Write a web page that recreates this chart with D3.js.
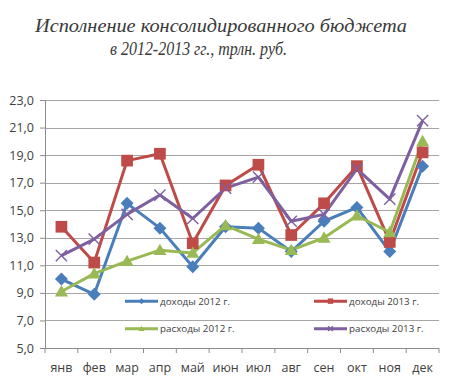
<!DOCTYPE html>
<html>
<head>
<meta charset="utf-8">
<script src="https://cdn.jsdelivr.net/npm/d3@7"></script>
<style>
body { margin: 0; background: #fff; }
svg { display: block; }
</style>
</head>
<body>
<svg id="chart" width="453" height="387"></svg>
<script>
// months
var months = ["янв", "фев", "мар", "апр", "май", "июн", "июл", "авг", "сен", "окт", "ноя", "дек"];

// values, трлн. руб.
var income2012  = [10.0, 8.9, 15.5, 13.7, 10.9, 13.8, 13.7, 12.0, 14.2, 15.2, 12.0, 18.2];
var income2013  = [13.8, 11.2, 18.6, 19.1, 12.6, 16.8, 18.3, 13.2, 15.5, 18.2, 12.7, 19.2];
var expense2012 = [9.1, 10.4, 11.3, 12.1, 11.9, 13.9, 12.9, 12.1, 13.0, 14.6, 13.4, 20.0];
var expense2013 = [11.7, 12.9, 14.7, 16.1, 14.4, 16.6, 17.4, 14.2, 14.7, 18.0, 15.8, 21.5];

var seriesNames = ["доходы 2012 г.", "доходы 2013 г.", "расходы 2012 г.", "расходы 2013 г."];
var yTicks = [5, 7, 9, 11, 13, 15, 17, 19, 21, 23];

var color = {
	blue: "#4a7ebb",
	red: "#be4b48",
	green: "#98b954",
	purple: "#7d60a0"
};

var series = [
	{name: seriesNames[0], values: income2012, color: color.blue, marker: "diamond"},
	{name: seriesNames[1], values: income2013, color: color.red, marker: "square"},
	{name: seriesNames[2], values: expense2012, color: color.green, marker: "triangle"},
	{name: seriesNames[3], values: expense2013, color: color.purple, marker: "cross"}
];

var svg = d3.select("#chart"),
	margin = {top: 100, right: 14, bottom: 39, left: 45},
	width = +svg.attr("width") - margin.left - margin.right,
	height = +svg.attr("height") - margin.top - margin.bottom;

var x = d3.scaleBand().domain(months).range([0, width]).padding(0),
	y = d3.scaleLinear().domain([5, 23]).range([height, 0]);

// title
var title = svg.append("g")
	.attr("font-family", "'Liberation Serif', 'DejaVu Serif', serif")
	.attr("font-style", "italic")
	.attr("font-size", 18.5)
	.attr("fill", "#3a3a3a");
title.append("text").attr("x", 35).attr("y", 32)
	.attr("textLength", 372).attr("lengthAdjust", "spacingAndGlyphs")
	.text("Исполнение консолидированного бюджета");
title.append("text").attr("x", 110).attr("y", 55)
	.attr("textLength", 177).attr("lengthAdjust", "spacingAndGlyphs")
	.text("в 2012-2013 гг., трлн. руб.");

var g = svg.append("g").attr("transform", "translate(" + margin.left + "," + margin.top + ")");

// gridlines
g.append("g").selectAll("line")
	.data(yTicks.slice(1)).enter()
	.append("line")
	.attr("x1", 0).attr("x2", width)
	.attr("y1", function(d){ return Math.round(y(d)) + 0.5; })
	.attr("y2", function(d){ return Math.round(y(d)) + 0.5; })
	.attr("stroke", "#a6a6a6").attr("stroke-width", 1);

// y axis
var yAxis = d3.axisLeft(y).tickValues(yTicks).tickSize(5).tickPadding(6)
	.tickFormat(function(d){ return d3.format(".1f")(d).replace(".", ","); });
var ya = g.append("g").call(yAxis);
ya.select(".domain").attr("stroke", "#8c8c8c");
ya.selectAll(".tick line").attr("stroke", "#8c8c8c");
ya.selectAll("text").attr("font-family", "'Open Sans', sans-serif").attr("font-size", 12.5).attr("fill", "#404040");

// x axis with ticks at band edges
var xa = g.append("g").attr("transform", "translate(0," + height + ")");
xa.append("line").attr("x1", 0).attr("x2", width).attr("y1", 0.5).attr("y2", 0.5).attr("stroke", "#8c8c8c");
xa.selectAll(".tk").data(months.concat(["end"])).enter()
	.append("line").attr("class", "tk")
	.attr("x1", function(d){ return d === "end" ? width : x(d); })
	.attr("x2", function(d){ return d === "end" ? width : x(d); })
	.attr("y1", 0).attr("y2", 5).attr("stroke", "#8c8c8c");
xa.selectAll("text").data(months).enter()
	.append("text")
	.attr("x", function(d){ return x(d) + x.bandwidth() / 2; })
	.attr("y", 24)
	.attr("text-anchor", "middle")
	.attr("font-family", "'Open Sans', sans-serif").attr("font-size", 12.5).attr("fill", "#404040")
	.text(function(d){ return d; });

var cx = function(i){ return x(months[i]) + x.bandwidth() / 2; };

function drawMarker(sel, type, c, s) {
	if (type === "diamond") {
		sel.append("path").attr("d", "M0," + (-s) + "L" + s + ",0L0," + s + "L" + (-s) + ",0Z").attr("fill", c);
	} else if (type === "square") {
		sel.append("rect").attr("x", -s * 0.9).attr("y", -s * 0.9).attr("width", s * 1.8).attr("height", s * 1.8).attr("fill", c);
	} else if (type === "triangle") {
		sel.append("path").attr("d", "M0," + (-s) + "L" + s + "," + (s * 0.75) + "L" + (-s) + "," + (s * 0.75) + "Z").attr("fill", c);
	} else {
		var k = s * 0.8;
		sel.append("path").attr("d", "M" + (-k) + "," + (-k) + "L" + k + "," + k + "M" + (-k) + "," + k + "L" + k + "," + (-k))
			.attr("stroke", c).attr("stroke-width", 1.4).attr("fill", "none");
	}
}

var line = d3.line()
	.x(function(d, i){ return cx(i); })
	.y(function(d){ return y(d); });

// legend (inside the plot, under the data)
var legendPos = [
	{lx: 80, ly: y(8.4)},
	{lx: 269, ly: y(8.4)},
	{lx: 80, ly: y(6.4)},
	{lx: 269, ly: y(6.4)}
];
var legend = g.append("g");
series.forEach(function(s, k) {
	var p = legendPos[k];
	var lg = legend.append("g").attr("transform", "translate(" + p.lx + "," + p.ly + ")");
	lg.append("line").attr("x1", 0).attr("x2", 33).attr("y1", 0).attr("y2", 0)
		.attr("stroke", s.color).attr("stroke-width", 3);
	var mk = lg.append("g").attr("transform", "translate(16.5,0)");
	drawMarker(mk, s.marker, s.color, 3);
	lg.append("text").attr("x", 35).attr("y", 3.5)
		.attr("font-family", "'Open Sans', sans-serif").attr("font-size", 9.8).attr("fill", "#404040")
		.text(s.name);
});

// series lines
series.forEach(function(s) {
	g.append("path").datum(s.values)
		.attr("d", line)
		.attr("fill", "none")
		.attr("stroke", s.color)
		.attr("stroke-width", 3)
		.attr("stroke-linejoin", "round");
});

// markers
series.forEach(function(s) {
	g.append("g").selectAll("g")
		.data(s.values).enter()
		.append("g")
		.attr("transform", function(d, i){ return "translate(" + cx(i) + "," + y(d) + ")"; })
		.each(function(){ drawMarker(d3.select(this), s.marker, s.color, s.marker === "cross" ? 7 : 6.5); });
});
</script>
</body>
</html>
